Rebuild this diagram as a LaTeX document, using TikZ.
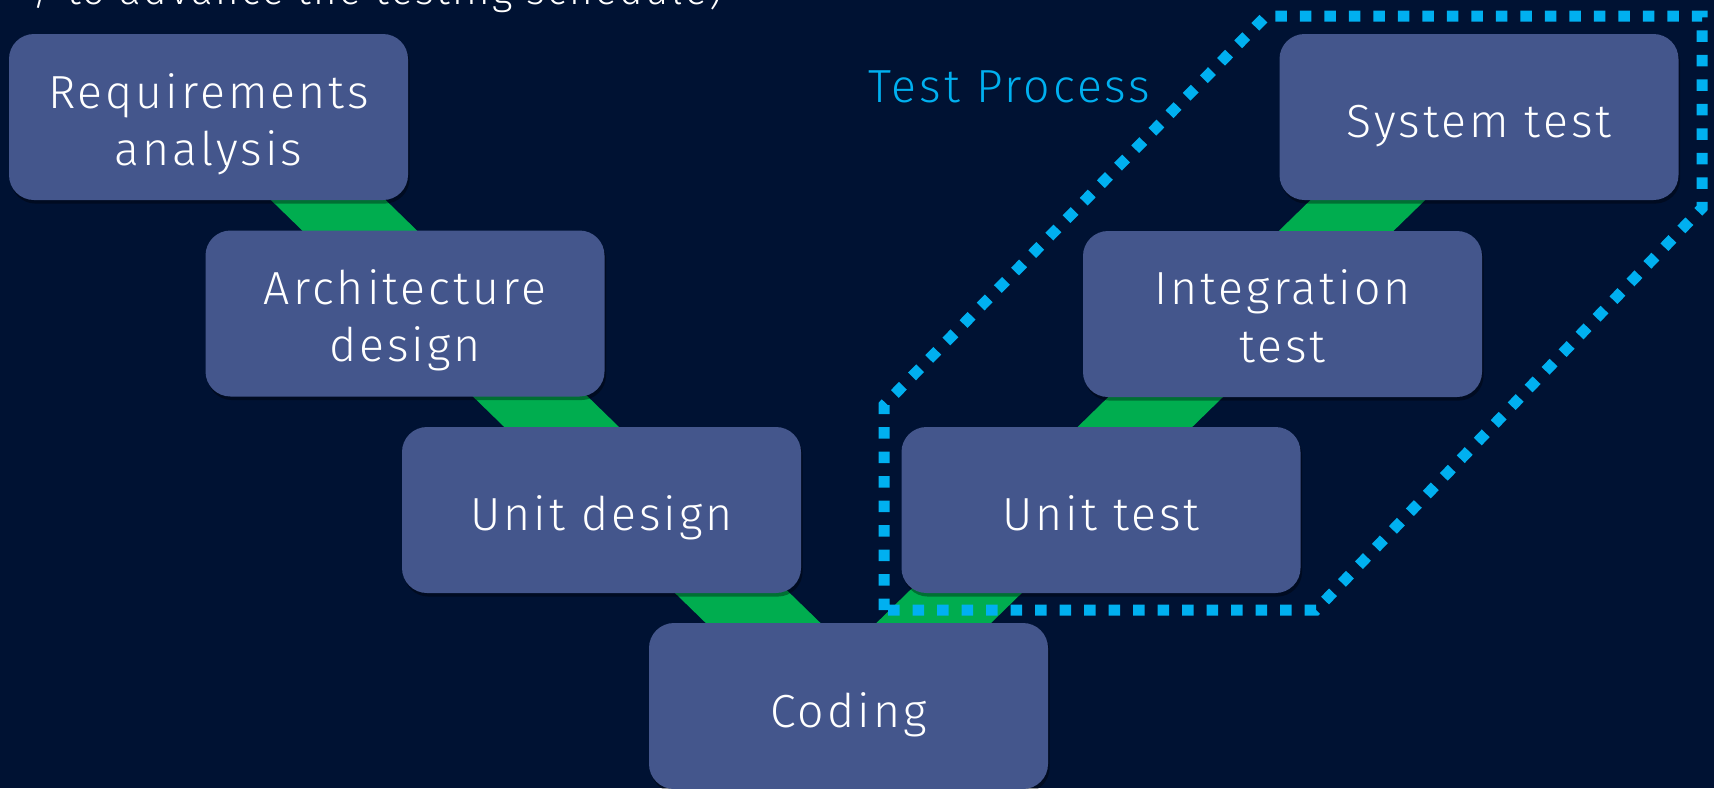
\documentclass[tikz,border=0pt]{standalone}
\usepackage{fontspec}
\setmainfont{Fira Sans Light}[LetterSpace=6.5]
\usetikzlibrary{shadows,calc}
\definecolor{bgnavy}{RGB}{0,18,51}
\definecolor{boxblue}{RGB}{68,86,140}
\definecolor{vgreen}{RGB}{0,173,79}
\definecolor{tcyan}{RGB}{0,176,240}
\tikzset{
  stagebox/.style={rounded corners=12.5pt, fill=boxblue,
    minimum width=199.5pt, minimum height=83pt, inner sep=0pt,
    drop shadow={shadow xshift=0.8pt, shadow yshift=-1.8pt, opacity=0.35, fill=black}},
  boxlabel/.style={text=white, inner sep=0pt, anchor=base,
    font=\fontsize{23.2}{28.5}\selectfont},
  vband/.style={draw=vgreen, line width=40pt, line join=miter},
  testline/.style={draw=tcyan, line width=5.5pt, dash pattern=on 5.75pt off 6.5pt},
  plaintext/.style={inner sep=0pt, font=\fontsize{23.2}{28.5}\selectfont}
}
\begin{document}
\begin{tikzpicture}[x=0.5pt,y=-0.5pt]
\fill[bgnavy] (0,0) rectangle (1714,788);
\useasboundingbox (0,0) rectangle (1714,788);

% cut-off caption line at the top
\node[inner sep=0pt, text=white, anchor=base west, font=\fontsize{20.1}{24}\selectfont] (cap) at (32,4) {/ to advance the testing schedule)};

% V band
\coordinate (bandL) at (246,120);
\coordinate (bandC) at (848.5,706);
\coordinate (bandR) at (1450,120);
\draw[vband] (bandL) -- (bandC) -- (bandR);

% boxes
\node[stagebox] (req)  at (208.5,117) {};
\node[stagebox] (arch) at (405,313.5) {};
\node[stagebox] (ud)   at (601.5,510) {};
\node[stagebox] (code) at (848.5,706) {};
\node[stagebox] (ut)   at (1101,510) {};
\node[stagebox] (it)   at (1282.5,314) {};
\node[stagebox] (st)   at (1479,117) {};

% box texts
\node[boxlabel] (reqA)  at ($(req.center)+(0,-9)$)  {Requirements};
\node[boxlabel] (reqB)  at ($(req.center)+(0,48)$)  {analysis};
\node[boxlabel] (archA) at ($(arch.center)+(0,-9)$) {Architecture};
\node[boxlabel] (archB) at ($(arch.center)+(0,48)$) {design};
\node[boxlabel] (udA)   at ($(ud.center)+(0,20)$)   {Unit design};
\node[boxlabel] (codeA) at ($(code.center)+(0,21)$) {Coding};
\node[boxlabel] (utA)   at ($(ut.center)+(0,20)$)   {Unit test};
\node[boxlabel] (itA)   at ($(it.center)+(0,-10)$)  {Integration};
\node[boxlabel] (itB)   at ($(it.center)+(0,48)$)   {test};
\node[boxlabel] (stA)   at ($(st.center)+(0,20)$)   {System test};

% test process outline
\coordinate (pA) at (884,610);
\coordinate (pB) at (884,405);
\coordinate (pC) at (1266,16);
\coordinate (pD) at (1702,16);
\coordinate (pE) at (1702,208);
\coordinate (pF) at (1316,610);
\draw[testline] (pA) -- (pB) -- (pC) -- (pD) -- (pE) -- (pF) -- cycle;

\node[plaintext, text=tcyan, anchor=base west] (tp) at (868,102) {Test Process};
\end{tikzpicture}
\end{document}
